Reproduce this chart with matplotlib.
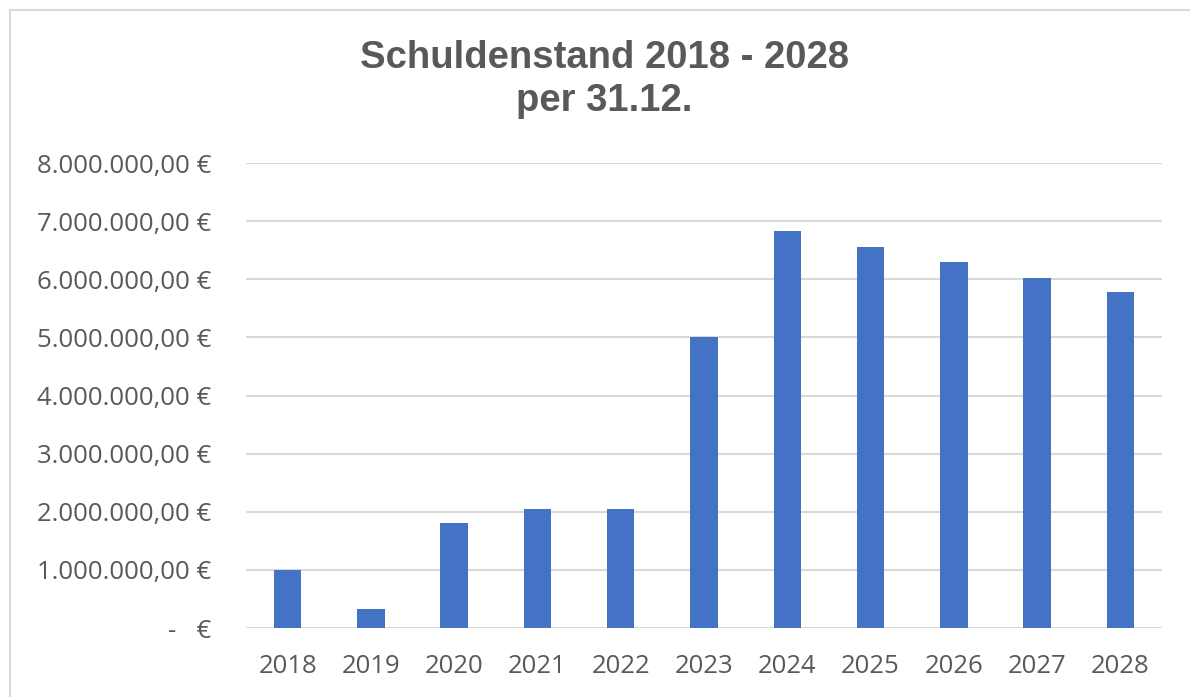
import matplotlib
matplotlib.use("Agg")
import matplotlib.pyplot as plt
from matplotlib.patches import Rectangle
from matplotlib.ticker import FuncFormatter

years = ["2018", "2019", "2020", "2021", "2022", "2023", "2024", "2025", "2026", "2027", "2028"]
debt = [1000000, 330000, 1800000, 2050000, 2040000, 5000000, 6830000, 6550000, 6290000, 6030000, 5780000]
yticks = [0, 1000000, 2000000, 3000000, 4000000, 5000000, 6000000, 7000000, 8000000]
title_lines = ["Schuldenstand 2018 - 2028", "per 31.12."]

W, H = 1190, 697
fig = plt.figure(figsize=(W / 100, H / 100), dpi=100)
fig.patch.set_facecolor("white")

# outer chart frame
fig.patches.append(Rectangle((10 / W, -0.05), 1.2, (H - 10) / H + 0.05, transform=fig.transFigure,
                             fill=False, edgecolor="#d9d9d9", linewidth=1.5))

ax = fig.add_axes([246 / W, 1 - 628 / H, (1162 - 246) / W, (628 - 163) / H])
x = list(range(len(years)))
ax.bar(x, debt, width=0.33, color="#4472C4", zorder=3)
ax.set_xlim(-0.5, len(years) - 0.5)
ax.set_ylim(0, 8000000)
ax.set_yticks(yticks)
ax.set_xticks(x)
ax.set_xticklabels(years)

def fmt(v, pos):
    if v == 0:
        return "-   €"
    s = f"{int(round(v)):,}".replace(",", ".")
    return s + ",00 €"

ax.yaxis.set_major_formatter(FuncFormatter(fmt))
ax.grid(axis="y", color="#d9d9d9", linewidth=1.5, zorder=0)
for s in ax.spines.values():
    s.set_visible(False)
ax.tick_params(axis="both", length=0, labelsize=18.5, colors="#595959")
ax.tick_params(axis="y", pad=25)
ax.tick_params(axis="x", pad=19)
for lab in ax.get_xticklabels() + ax.get_yticklabels():
    lab.set_family(["Open Sans", "DejaVu Sans"])

fig.text(604 / W, 1 - 58 / H, title_lines[0], ha="center", va="center", fontsize=27.5,
         fontweight="bold", color="#595959", family="Liberation Sans")
fig.text(604 / W, 1 - 101 / H, title_lines[1], ha="center", va="center", fontsize=27.5,
         fontweight="bold", color="#595959", family="Liberation Sans")

fig.savefig("out.png", dpi=100, facecolor="white")
